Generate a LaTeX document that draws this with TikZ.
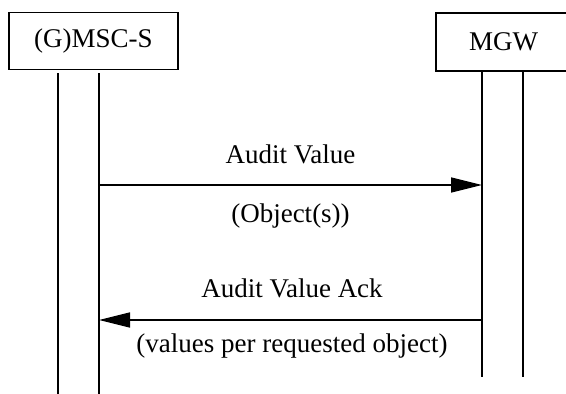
\documentclass[tikz,border=0pt]{standalone}
\usepackage{fontspec}
\setmainfont{Liberation Serif}
\usetikzlibrary{arrows.meta}
\begin{document}
\begin{tikzpicture}[x=1pt,y=-1pt,
  boxfont/.style={font=\fontsize{27}{31}\selectfont},
  entity/.style={draw,line width=1.3pt,inner sep=0pt,boxfont},
  life/.style={line width=1.4pt},
  msg/.style={line width=1.4pt,-{Triangle[length=31pt,width=15pt]}},
  lbl/.style={boxfont,inner sep=0pt,anchor=base}]
\useasboundingbox (0,0) rectangle (566,394);
\node[entity,minimum width=169pt,minimum height=57pt] (msc) at (93.5,41) {(G)MSC-S};
\node[entity,minimum width=135pt,minimum height=58pt] (mgw) at (503.5,42) {MGW};
\coordinate (l1t) at (58,73); \coordinate (l1b) at (58,394);
\coordinate (l2t) at (99,73); \coordinate (l2b) at (99,394);
\coordinate (r1t) at (482,71); \coordinate (r1b) at (482,377);
\coordinate (r2t) at (523,71); \coordinate (r2b) at (523,377);
\draw[life] (l1t) -- (l1b);
\draw[life] (l2t) -- (l2b);
\draw[life] (r1t) -- (r1b);
\draw[life] (r2t) -- (r2b);
\coordinate (a1s) at (99,185); \coordinate (a1e) at (482,185);
\coordinate (a2s) at (482,320); \coordinate (a2e) at (99,320);
\draw[msg] (a1s) -- (a1e);
\draw[msg] (a2s) -- (a2e);
\node[lbl] (t1) at (290.5,163) {Audit Value};
\node[lbl] (t2) at (290.5,222) {(Object(s))};
\node[lbl] (t3) at (292,297) {Audit Value Ack};
\node[lbl] (t4) at (292,352) {(values per requested object)};
\end{tikzpicture}
\end{document}
